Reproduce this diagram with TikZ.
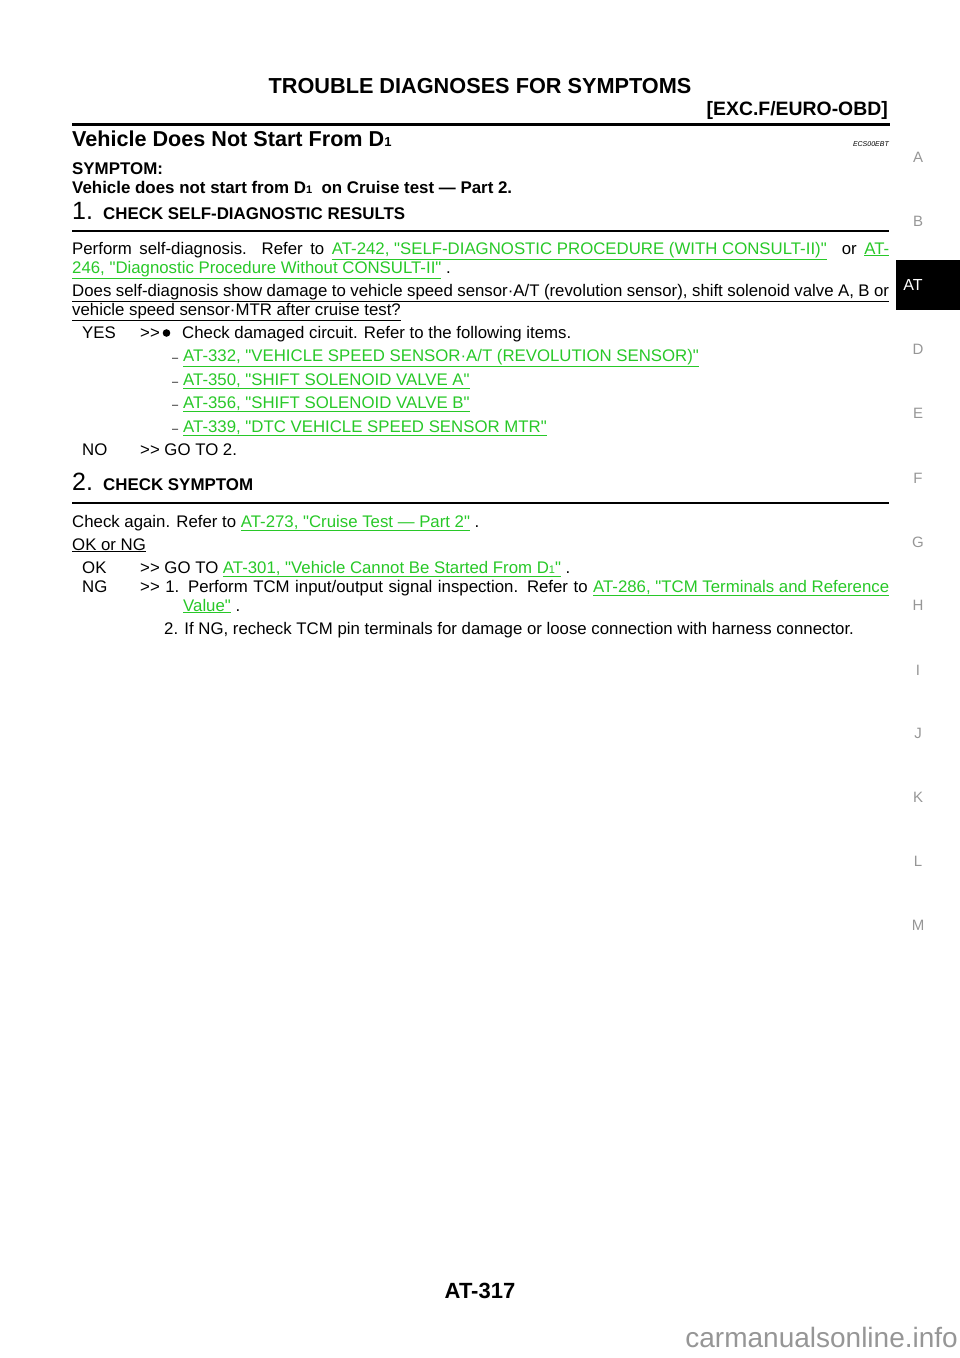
\documentclass[tikz,border=0pt]{standalone}
\usepackage{fontspec}
\setmainfont{Liberation Sans}
\definecolor{lg}{RGB}{40,200,40}
\definecolor{sideg}{RGB}{150,150,150}
\newcommand{\ul}[1]{$\underline{\hbox{#1}}$}
\newcommand{\lk}[1]{{\color{lg}\ul{#1}}}
\newcommand{\qq}{\XeTeXglyph\numexpr\XeTeXcharglyph"22\relax}
\newcommand{\gto}{>{}>}
\tikzset{
 t/.style={anchor=base west,inner sep=0pt,font=\fontsize{16.8}{19}\selectfont},
 hd/.style={anchor=base west,inner sep=0pt,font=\fontsize{16.9}{18}\selectfont\bfseries},
 side/.style={anchor=center,inner sep=0pt,text=sideg,font=\fontsize{15}{16}\selectfont},
 num/.style={anchor=base west,inner sep=0pt,font=\fontsize{25}{28}\selectfont},
}
\begin{document}
\begin{tikzpicture}[x=1pt,y=-1pt]
\useasboundingbox (0,0) rectangle (960,1358);
\node[anchor=base,inner sep=0pt,font=\fontsize{21.7}{24}\selectfont\bfseries] (title) at (480,93) {TROUBLE DIAGNOSES FOR SYMPTOMS};
\node[anchor=base east,inner sep=0pt,font=\fontsize{19.4}{22}\selectfont\bfseries] (sub) at (888,115) {[EXC.F/EURO-OBD]};
\draw[line width=2.5pt] (72,124.5) -- (890,124.5);
\node[anchor=base west,inner sep=0pt,font=\fontsize{21.6}{24}\selectfont\bfseries] (h) at (72,146) {Vehicle Does Not Start From D{\fontsize{13}{14}\selectfont 1}};
\node[anchor=base east,inner sep=0pt,font=\fontsize{7}{8}\selectfont\itshape] (ecs) at (889,146) {ECS00EBT};
\node[hd] (s1) at (72,174) {SYMPTOM:};
\node[hd] (s2) at (72,193) {Vehicle does not start from D{\fontsize{11}{12}\selectfont 1}\ \ on Cruise test --- Part 2.};
\node[num] (n1) at (72,219) {1.};
\node[hd] (c1) at (103,219) {CHECK SELF-DIAGNOSTIC RESULTS};
\draw[line width=1.2pt] (72,231) -- (889,231);
\node[t] (p1) at (72,254) {\makebox[817pt][s]{Perform self-diagnosis. Refer to \lk{AT-242, \qq SELF-DIAGNOSTIC PROCEDURE (WITH CONSULT-II)\qq} \ or \lk{AT-}}};
\node[t] (p2) at (72,273) {\lk{246, \qq Diagnostic Procedure Without CONSULT-II\qq} .};
\node[t] (q1) at (72,296) {\ul{\makebox[817pt][s]{Does self-diagnosis show damage to vehicle speed sensor·A/T (revolution sensor), shift solenoid valve A, B or}}};
\node[t] (q2) at (72,315) {\ul{vehicle speed sensor·MTR after cruise test?}};
\node[t] (yes) at (82,338) {YES};
\node[t] (yg) at (140,338) {\gto};
\fill (166.5,333) circle (3.8pt);
\node[t] (ych) at (182,338) {Check damaged circuit. Refer to the following items.};
\foreach \y/\s [count=\i] in {361/{AT-332, \qq VEHICLE SPEED SENSOR·A/T (REVOLUTION SENSOR)\qq},385/{AT-350, \qq SHIFT SOLENOID VALVE A\qq},408/{AT-356, \qq SHIFT SOLENOID VALVE B\qq},432/{AT-339, \qq DTC VEHICLE SPEED SENSOR MTR\qq}}{
 \node[t,font=\fontsize{11}{12}\selectfont] (d\i) at (172,\y) {--};
 \node[t] (l\i) at (183,\y) {\lk{\s}};
}
\node[t] (no) at (82,455) {NO};
\node[t] (nog) at (140,455) {\gto{} GO TO 2.};
\node[num] (n2) at (72,490) {2.};
\node[hd] (c2) at (103,490) {CHECK SYMPTOM};
\draw[line width=1.2pt] (72,503) -- (889,503);
\node[t] (ca) at (72,527) {Check again. Refer to \lk{AT-273, \qq Cruise Test --- Part 2\qq} .};
\node[t] (okng) at (72,550) {\ul{OK or NG}};
\node[t] (ok) at (82,573) {OK};
\node[t] (okg) at (140,573) {\gto{} GO TO \lk{AT-301, \qq Vehicle Cannot Be Started From D{\fontsize{11}{12}\selectfont 1}\qq} .};
\node[t] (ng) at (82,592) {NG};
\node[t] (ngg) at (140,592) {\makebox[749pt][s]{\gto{} 1. Perform TCM input/output signal inspection. Refer to \lk{AT-286, \qq TCM Terminals and Reference}}};
\node[t] (ngv) at (183,611) {\lk{Value\qq} .};
\node[t] (ng2) at (164,634) {2. If NG, recheck TCM pin terminals for damage or loose connection with harness connector.};
\foreach \l/\y in {A/157,B/221,D/349,E/413,F/478,G/542,H/605,I/670,J/733,K/797,L/861,M/925}{
 \node[side] (side\l) at (918,\y) {\l};
}
\fill (896,260) rectangle (960,310);
\node[side,text=white,font=\fontsize{16}{16}\selectfont] (sideAT) at (913,285) {AT};
\node[anchor=base,inner sep=0pt,font=\fontsize{22}{24}\selectfont\bfseries] (pg) at (480,1298) {AT-317};
\node[anchor=base east,inner sep=0pt,text=sideg,font=\fontsize{28}{30}\selectfont] (wm) at (958,1347) {carmanualsonline.info};
\end{tikzpicture}
\end{document}
